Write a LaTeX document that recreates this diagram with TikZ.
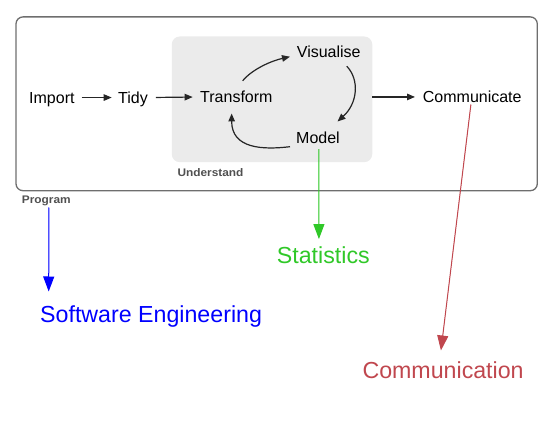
\documentclass[tikz,border=0pt]{standalone}
\usepackage{fontspec}
\setmainfont{Liberation Sans}
\newfontfamily\headfont[FakeStretch=1.08]{Liberation Sans}
\usetikzlibrary{arrows.meta}
\definecolor{boxgray}{HTML}{6E6E6E}
\definecolor{ufill}{HTML}{EBEBEB}
\definecolor{headgray}{HTML}{505050}
\definecolor{statgreen}{HTML}{30C828}
\definecolor{commred}{HTML}{C0474E}
\definecolor{swblue}{HTML}{0000FF}
\begin{document}
\begin{tikzpicture}[x=1pt,y=-1pt,
  lab/.style={anchor=base west,inner sep=0pt,text height=11.5pt,text depth=0pt,font=\fontsize{16}{19}\selectfont},
  field/.style={anchor=base west,inner sep=0pt,text height=16.6pt,text depth=0pt,font=\fontsize{23.2}{28}\selectfont},
  head/.style={anchor=base west,inner sep=0pt,text height=7.8pt,text depth=0pt,font=\headfont\bfseries\fontsize{11}{13}\selectfont,text=headgray},
  flow/.style={-{Triangle[length=8pt,width=6.5pt]},line width=1.2pt,draw=black!85},
  bigarrow/.style={-{Triangle[length=15pt,width=11pt]},line width=1pt},
]
\useasboundingbox (0,0) rectangle (555,444);
% boxes
\node[draw=boxgray,line width=1.3pt,rounded corners=7pt,minimum width=521.3pt,minimum height=173.8pt,inner sep=0pt] (prog) at (276.65,103.8) {};
\node[fill=ufill,rounded corners=8pt,minimum width=200.5pt,minimum height=125.7pt,inner sep=0pt] (ubox) at (272,99.35) {};
% labels
\node[lab] (imp) at (29,103.3) {Import};
\node[lab] (tidy) at (118,103.3) {Tidy};
\node[lab] (trans) at (200,102.7) {Transform};
\node[lab] (vis) at (296.7,57.3) {Visualise};
\node[lab] (model) at (296,143.3) {Model};
\node[lab] (comm) at (422.7,102.7) {Communicate};
\node[head] (undl) at (177.3,176.7) {Understand};
\node[head] (progl) at (21.7,203.3) {Program};
\node[field,text=swblue] (se) at (40,322.3) {Software Engineering};
\node[field,text=statgreen] (stat) at (276.7,263.3) {Statistics};
\node[field,text=commred] (commn) at (362.3,378.3) {Communication};
% flow arrows
\draw[flow,shorten <=7pt,shorten >=6.3pt] (imp.east) -- (tidy.west);
\draw[flow,shorten <=7.8pt,shorten >=7.3pt] (tidy.east) -- (trans.west);
\draw[flow] ([shift={(6.3,-10.2)}]trans.north) .. controls +(10,-12) and +(-18,4) .. ([shift={(-6.7,5.15)}]vis.west);
\draw[flow] ([shift={(18,8.7)}]vis.south) .. controls +(13.3,14) and +(19.7,-17.7) .. ([shift={(19.5,-10.1)}]model.north);
\draw[flow] ([shift={(-6,9.15)}]model.west) .. controls +(-28,3.3) and +(0,35) .. ([shift={(-4.7,10.6)}]trans.south);
\draw[flow,shorten >=7.7pt] (ubox.east |- comm.west) -- (comm.west);
% coloured arrows
\draw[bigarrow,draw=swblue,fill=swblue] ([shift={(2.6,4)}]progl.south) -- ([shift={(8.7,-14)}]se.north west);
\draw[bigarrow,draw=statgreen,fill=statgreen] ([shift={(0.9,5.7)}]model.south) -- ([shift={(-4.4,-7.4)}]stat.north);
\draw[bigarrow,draw=commred,fill=commred] ([shift={(-1.35,1.6)}]comm.south) -- ([shift={(-2.15,-11)}]commn.north);
\end{tikzpicture}
\end{document}
